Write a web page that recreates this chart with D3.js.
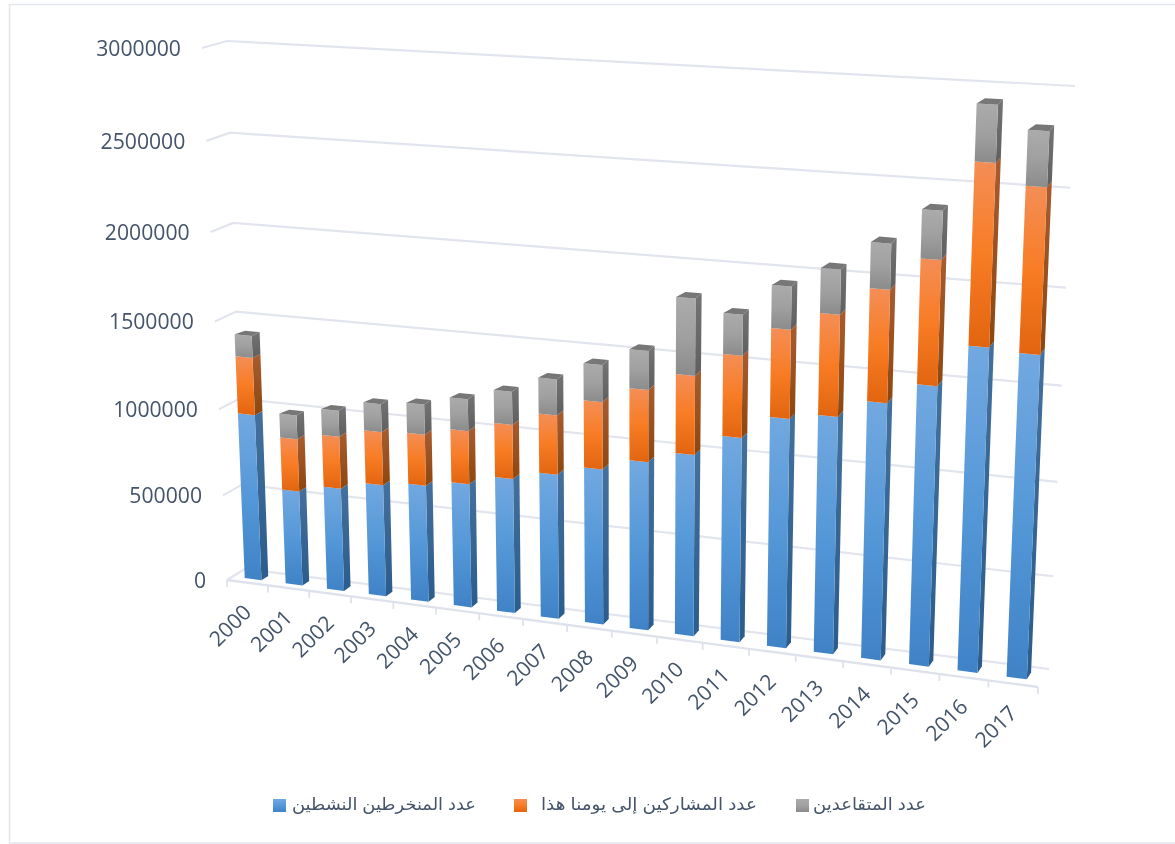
<!DOCTYPE html>
<html><head><meta charset="utf-8">
<script src="https://cdn.jsdelivr.net/npm/d3@7/dist/d3.min.js"></script>
<style>html,body{margin:0;padding:0;background:#fff}svg{display:block;filter:blur(0.4px)}</style>
</head><body><svg id="c" width="1175" height="844"></svg>
<script>
const years=[2000,2001,2002,2003,2004,2005,2006,2007,2008,2009,2010,2011,2012,2013,2014,2015,2016,2017];
const active=[965000,551000,595000,643000,669000,705000,763000,815000,872000,939000,1006000,1125000,1253000,1289000,1388000,1501000,1725000,1711000];
const participants=[327000,301000,298000,303000,289000,299000,302000,328000,369000,393000,427000,439000,472000,537000,588000,648000,928000,840000];
const retired=[124000,137000,148000,158000,169000,178000,183000,198000,202000,211000,411000,217000,225000,233000,236000,248000,286000,275000];
const yTicks=[0,500000,1000000,1500000,2000000,2500000,3000000];
const seriesNames=['عدد المنخرطين النشطين','عدد المشاركين إلى يومنا هذا','عدد المتقاعدين'];
const seriesData=[active,participants,retired];
const palettes=[
 {id:'b',front:['#72a8e0','#5598d8','#3f82c6'],side:['#44709c','#2b5c8c'],top:'#44709c'},
 {id:'o',front:['#f48e56','#f87c24','#e2640f'],side:['#a85c30','#8c4710'],top:'#a85c30'},
 {id:'g',front:['#ababab','#a0a0a0','#8b8b8b'],side:['#747474','#5f5f5f'],top:'#777777'}
];
const svg=d3.select('#c');
const defs=svg.append('defs');
palettes.forEach(p=>{
 const f=defs.append('linearGradient').attr('id',p.id+'F').attr('x1',0).attr('y1',0).attr('x2',0).attr('y2',1);
 p.front.forEach((c,i)=>f.append('stop').attr('offset',i/2).attr('stop-color',c));
 const s=defs.append('linearGradient').attr('id',p.id+'S').attr('x1',0).attr('y1',0).attr('x2',0).attr('y2',1);
 p.side.forEach((c,i)=>s.append('stop').attr('offset',i).attr('stop-color',c));
});
function H(q){const [p0,p1,p2,p3]=q;const dx1=p1[0]-p2[0],dx2=p3[0]-p2[0],dx3=p0[0]-p1[0]+p2[0]-p3[0],dy1=p1[1]-p2[1],dy2=p3[1]-p2[1],dy3=p0[1]-p1[1]+p2[1]-p3[1];const D=dx1*dy2-dx2*dy1,g=(dx3*dy2-dx2*dy3)/D,h=(dx1*dy3-dx3*dy1)/D;const a=p1[0]-p0[0]+g*p1[0],b=p3[0]-p0[0]+h*p3[0],c=p0[0],d=p1[1]-p0[1]+g*p1[1],e=p3[1]-p0[1]+h*p3[1],f=p0[1];return (u,v)=>{const w=g*u+h*v+1;return[(a*u+b*v+c)/w,(d*u+e*v+f)/w]}}
const front=H([[227,580],[1038,687],[1062.5,101],[202,48]]);
const back=H([[245,569],[1049,669],[1075,86],[227,41]]);
const P=(u,v,d)=>{const a=front(u,v),b=back(u,v);return[a[0]+(b[0]-a[0])*d,a[1]+(b[1]-a[1])*d]};
const xs=d3.scaleBand().domain(years).range([0,1]).paddingInner(0.59).paddingOuter(0.295);
const xt=d3.scaleBand().domain(years).range([0,1]);
const ys=d3.scaleLinear().domain([0,3000000]).range([0,1]);
const d0=.32,d1=.70;
const GRID='#e2e5ee',TXT='#44546a';
const line=d3.line();
// frame
svg.append('path').attr('d','M1175,4.5H9.5V843H1175').attr('fill','none').attr('stroke','#e3e6ee').attr('stroke-width',1.5);
// gridlines
const grid=svg.append('g').attr('fill','none').attr('stroke',GRID).attr('stroke-width',2.2);
yTicks.forEach(t=>{const v=ys(t);grid.append('path').attr('d',line([P(0,v,0),P(0,v,1),P(1,v,1)]))});
// axis
const ax=svg.append('g').attr('fill','none').attr('stroke','#dfe2ec').attr('stroke-width',2.4);
ax.append('path').attr('d',line([P(0,0,0),P(1,0,0)]));
[...years,null].forEach((yr,i)=>{const p=P(i/years.length,0,0);ax.append('path').attr('stroke-width',1.8).attr('d',line([p,[p[0],p[1]+7]]))});
// y labels
svg.append('g').selectAll('text').data(yTicks).join('text')
 .attr('x',t=>P(0,ys(t),0)[0]-21).attr('y',t=>P(0,ys(t),0)[1]+2)
 .attr('text-anchor','end').attr('dominant-baseline','middle')
 .attr('font-family','"Open Sans"').attr('font-size',21.2).attr('fill',TXT).text(t=>t);
// x labels
svg.append('g').selectAll('text').data(years).join('text')
 .attr('transform',yr=>{const p=P(xt(yr)+xt.bandwidth()/2,0,0);return `translate(${p[0]-16},${p[1]+44}) rotate(-45)`})
 .attr('text-anchor','middle').attr('dominant-baseline','middle')
 .attr('font-family','"Open Sans"').attr('font-size',21.2).attr('fill',TXT).text(d=>d);
// bars
const bars=svg.append('g');
years.forEach((yr,i)=>{
 const u0=xs(yr),u1=u0+xs.bandwidth();
 let base=0;
 const g=bars.append('g');
 seriesData.forEach((arr,s)=>{
  const v0=ys(base),v1=ys(base+arr[i]);base+=arr[i];
  const pal=palettes[s];
  g.append('polygon').attr('points',[P(u1,v0,d0),P(u1,v0,d1),P(u1,v1,d1),P(u1,v1,d0)].join(' ')).attr('fill',`url(#${pal.id}S)`);
  g.append('polygon').attr('points',[P(u0,v0,d0),P(u1,v0,d0),P(u1,v1,d0),P(u0,v1,d0)].join(' ')).attr('fill',`url(#${pal.id}F)`);
  if(s===seriesData.length-1){
   g.append('polygon').attr('points',[P(u0,v1,d0),P(u1,v1,d0),P(u1,v1,d1),P(u0+(u1-u0)*.15,v1,d1)].join(' ')).attr('fill',pal.top);
  }
 });
});
// legend
const leg=[{sw:273,tx:476,w:184},{sw:514,tx:757,w:216},{sw:796,tx:926,w:113}];
const lg=svg.append('g');
seriesNames.forEach((n,i)=>{
 lg.append('rect').attr('x',leg[i].sw).attr('y',799).attr('width',13).attr('height',13).attr('fill',`url(#${palettes[i].id}F)`);
 lg.append('text').attr('x',leg[i].tx).attr('y',806).attr('text-anchor','start').attr('dominant-baseline','middle')
  .attr('direction','rtl').attr('font-family','"Liberation Sans","DejaVu Sans"').attr('font-size',17).attr('fill',TXT)
  .attr('textLength',leg[i].w).attr('lengthAdjust','spacingAndGlyphs').text(n);
});
</script></body></html>
